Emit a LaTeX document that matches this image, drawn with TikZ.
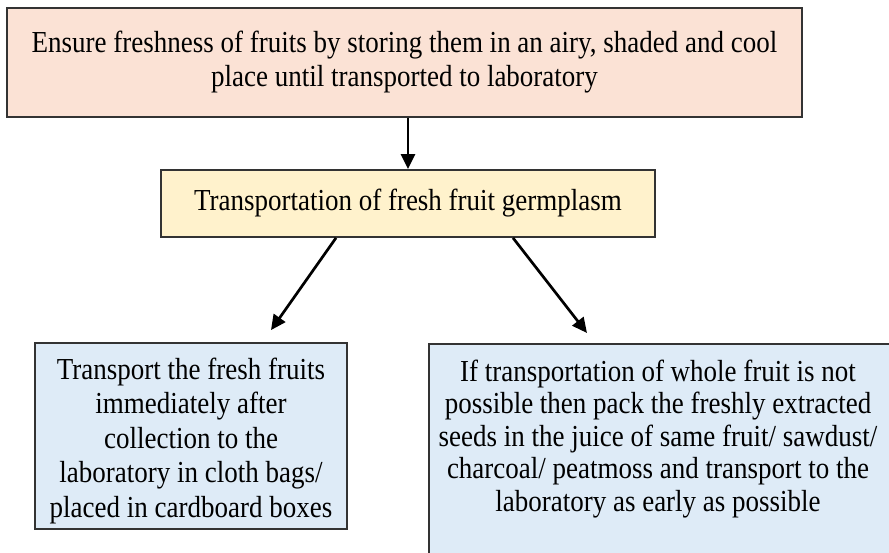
\documentclass[tikz,border=0pt]{standalone}
\usepackage{fontspec}
\setmainfont{Liberation Serif}[FakeStretch=0.885]
\usetikzlibrary{arrows.meta,calc}

\definecolor{peach}{HTML}{FBE2D5}
\definecolor{cream}{HTML}{FFF2CC}
\definecolor{skyfill}{HTML}{DEEBF7}
\definecolor{edge}{HTML}{333333}

\tikzset{
  box/.style={draw=edge, line width=1.8pt, rectangle, inner sep=0pt, align=center,
              font=\fontsize{30.5}{34}\selectfont},
  topbox/.style={box, fill=peach},
  midbox/.style={box, fill=cream},
  lowbox/.style={box, fill=skyfill},
  plaintext/.style={align=center, inner sep=0pt},
  flow/.style={line width=2.7pt, -{Triangle[length=15pt, width=14pt]}}
}

\begin{document}
\begin{tikzpicture}[x=1pt, y=-1pt]
  \useasboundingbox (0,0) rectangle (889,553);
  \clip (0,0) rectangle (889,553);

  % storage step
  \node (ensure) [topbox, minimum width=795, minimum height=109] at (404.5,62.5)
    {Ensure freshness of fruits by storing them in an airy, shaded and cool\\
     place until transported to laboratory};

  % transport heading
  \node (trans) [midbox, minimum width=494, minimum height=67] at (408,203.5)
    {Transportation of fresh fruit germplasm};

  % whole fruit option
  \node (whole) [lowbox, minimum width=312, minimum height=186] at (191,436) {};
  \node (wholetext) [plaintext, font=\fontsize{30.5}{34.5}\selectfont] at (191,441)
    {Transport the fresh fruits\\ immediately after\\ collection to the\\
     laboratory in cloth bags/\\ placed in cardboard boxes};

  % seed option (box runs past the page edge)
  \node (seedbox) [lowbox, anchor=north west, minimum width=464, minimum height=225]
    at (428,343) {};
  \node (seeds) [plaintext, font=\fontsize{30.5}{32.5}\selectfont] at (658,439)
    {If transportation of whole fruit is not\\
     possible then pack the freshly extracted\\
     seeds in the juice of same fruit/ sawdust/\\
     charcoal/ peatmoss and transport to the\\
     laboratory as early as possible};

  % connectors
  \draw[flow] (ensure.south -| trans.north) -- (trans.north);
  \draw[flow] ([xshift=-72pt]trans.south) -- ([xshift=80pt, yshift=12pt]whole.north);
  \draw[flow] ([xshift=105pt]trans.south) -- ([xshift=159pt, yshift=10pt]seedbox.north west);
\end{tikzpicture}
\end{document}
